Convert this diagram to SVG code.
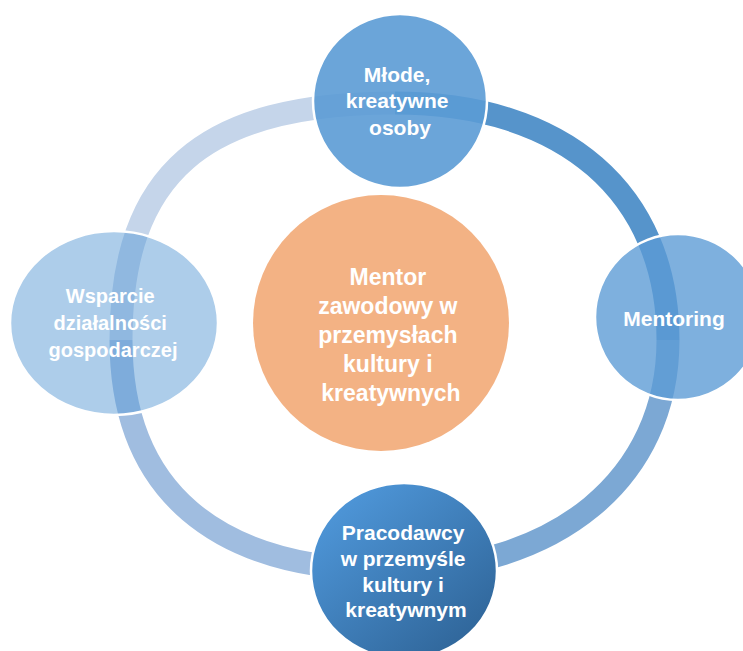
<svg xmlns="http://www.w3.org/2000/svg" width="743" height="651" viewBox="0 0 743 651">
  <defs>
    <linearGradient id="gBottom" x1="0.15" y1="0.1" x2="0.9" y2="0.95">
      <stop offset="0" stop-color="#4e96d8"/>
      <stop offset="1" stop-color="#2e6396"/>
    </linearGradient>
  </defs>
  <style>
    .seg { fill: none; stroke-width: 23; }
    .node { stroke: #ffffff; stroke-width: 2.5; }
    .lbl { font-family: "Liberation Sans", Arial, sans-serif; font-weight: bold; fill: #ffffff; text-anchor: middle; }
  </style>
  <rect width="743" height="651" fill="#ffffff"/>
  <g id="connectors">
    <path class="seg" stroke="#c5d5ea" d="M 395 103 C 203 103 121 174 121 340"/>
    <path class="seg" stroke="#5694cb" d="M 395 103 C 564 103 668 193 668 340"/>
    <path class="seg" stroke="#7ca8d4" d="M 668 340 C 668 478 557 570 390 570"/>
    <path class="seg" stroke="#a0bde0" d="M 390 570 C 215 570 121 490 121 340"/>
  </g>
  <g id="center">
    <circle cx="381" cy="323" r="128" fill="#f3b284"/>
    <text class="lbl" font-size="23" x="391">
      <tspan x="391" y="285">Mentor</tspan>
      <tspan x="391" y="314">zawodowy w</tspan>
      <tspan x="391" y="343">przemysłach</tspan>
      <tspan x="391" y="372">kultury i</tspan>
      <tspan x="391" y="401">kreatywnych</tspan>
    </text>
  </g>
  <g id="node-top">
    <circle class="node" cx="400" cy="101" r="87" fill="#5b9bd5" fill-opacity="0.9"/>
    <text class="lbl" font-size="21">
      <tspan x="400" y="82">Młode,</tspan>
      <tspan x="400" y="108">kreatywne</tspan>
      <tspan x="400" y="135">osoby</tspan>
    </text>
  </g>
  <g id="node-right">
    <circle class="node" cx="678" cy="317" r="83" fill="#5b9bd5" fill-opacity="0.79"/>
    <text class="lbl" font-size="21" x="674" y="326">Mentoring</text>
  </g>
  <g id="node-bottom">
    <ellipse class="node" cx="404" cy="571" rx="93" ry="88" fill="url(#gBottom)"/>
    <text class="lbl" font-size="21">
      <tspan x="406" y="540">Pracodawcy</tspan>
      <tspan x="406" y="566">w przemyśle</tspan>
      <tspan x="406" y="592">kultury i</tspan>
      <tspan x="406" y="617">kreatywnym</tspan>
    </text>
  </g>
  <g id="node-left">
    <ellipse class="node" cx="114" cy="323" rx="104" ry="92" fill="#5b9bd5" fill-opacity="0.5"/>
    <text class="lbl" font-size="20">
      <tspan x="113" y="303">Wsparcie</tspan>
      <tspan x="113" y="330">działalności</tspan>
      <tspan x="113" y="357">gospodarczej</tspan>
    </text>
  </g>
</svg>
